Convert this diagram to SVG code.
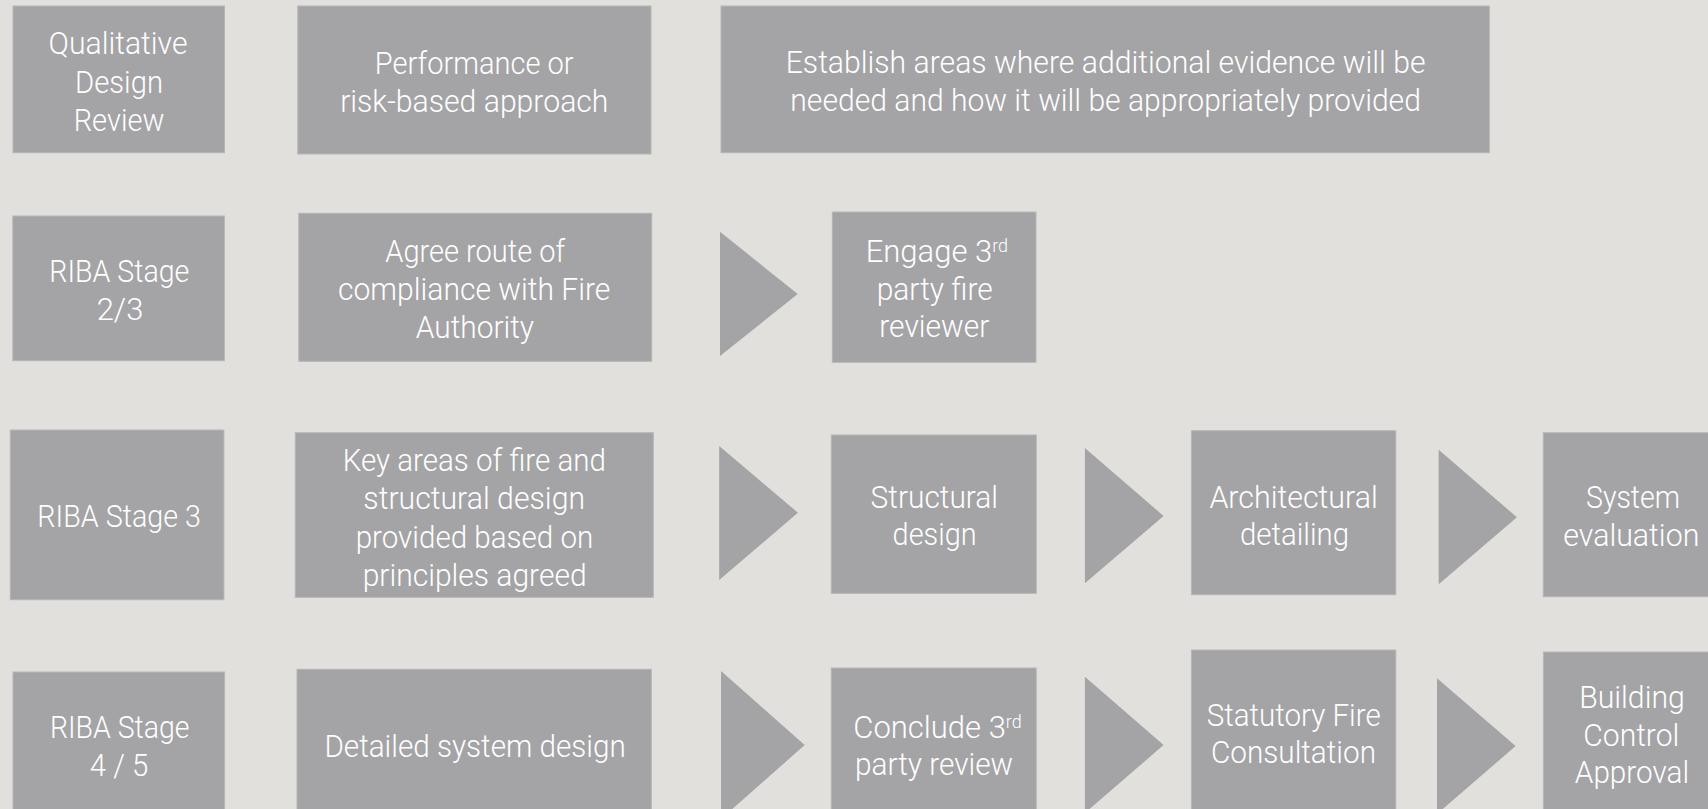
<svg xmlns="http://www.w3.org/2000/svg" width="1708" height="809" viewBox="0 0 1708 809">
<style>
.bg{fill:#e1e0dc}
.box{fill:#a4a4a6;stroke:#b6b6b8;stroke-width:1}
.chev{fill:#a4a4a6}
text{font-family:Roboto,"Liberation Sans",sans-serif;font-weight:300;font-size:31px;fill:#ffffff}
.c{text-anchor:middle}
.sup{font-size:18px}
</style>
<rect class="bg" x="0" y="0" width="1708" height="809"/>
<g id="connectors">
<polygon class="chev" points="720,231.7 797.7,294 720,356"/>
<polygon class="chev" points="719.2,446 797.9,512.7 719.2,580"/>
<polygon class="chev" points="1084.9,448 1163.6,516 1084.9,583.3"/>
<polygon class="chev" points="1438.7,449.7 1516.9,517.3 1438.7,584.3"/>
<polygon class="chev" points="721,671 804.7,745 721,819"/>
<polygon class="chev" points="1084.9,676.7 1163.6,745 1084.9,813"/>
<polygon class="chev" points="1437,678.3 1515.6,746 1437,814"/>
</g>
<g id="qualitative-design-review">
<rect class="box" x="13" y="6" width="211.5" height="146.7"/>
<text class="c" x="118" y="54.3" textLength="139" lengthAdjust="spacingAndGlyphs">Qualitative</text>
<text class="c" x="119" y="92.6" textLength="88" lengthAdjust="spacingAndGlyphs">Design</text>
<text class="c" x="119" y="131" textLength="90.6" lengthAdjust="spacingAndGlyphs">Review</text>
</g>
<g id="performance-approach">
<rect class="box" x="297.8" y="6" width="353.2" height="148"/>
<text class="c" x="474.2" y="74" textLength="198.7" lengthAdjust="spacingAndGlyphs">Performance or</text>
<text class="c" x="474.3" y="111.7" textLength="268.3" lengthAdjust="spacingAndGlyphs">risk-based approach</text>
</g>
<g id="establish-evidence">
<rect class="box" x="721" y="6" width="768.3" height="146.7"/>
<text class="c" x="1105.6" y="73.3" textLength="639.8" lengthAdjust="spacingAndGlyphs">Establish areas where additional evidence will be</text>
<text class="c" x="1105.6" y="111" textLength="630.6" lengthAdjust="spacingAndGlyphs">needed and how it will be appropriately provided</text>
</g>
<g id="riba-2-3">
<rect class="box" x="12.8" y="216" width="211.6" height="144.7"/>
<text class="c" x="119.3" y="282.3" textLength="140" lengthAdjust="spacingAndGlyphs">RIBA Stage</text>
<text class="c" x="120" y="320" textLength="46.6" lengthAdjust="spacingAndGlyphs">2/3</text>
</g>
<g id="agree-route">
<rect class="box" x="298.8" y="213.3" width="352.9" height="148"/>
<text class="c" x="475.2" y="262.3" textLength="179.8" lengthAdjust="spacingAndGlyphs">Agree route of</text>
<text class="c" x="474.2" y="300" textLength="272.4" lengthAdjust="spacingAndGlyphs">compliance with Fire</text>
<text class="c" x="474.9" y="337.7" textLength="118.3" lengthAdjust="spacingAndGlyphs">Authority</text>
</g>
<g id="engage-reviewer">
<rect class="box" x="832.3" y="212" width="203.7" height="150.3"/>
<text x="865.7" y="261.7">Engage 3<tspan class="sup" dy="-10">rd</tspan></text>
<text class="c" x="934.7" y="299.7" textLength="116" lengthAdjust="spacingAndGlyphs">party fire</text>
<text class="c" x="934.3" y="337.3" textLength="110" lengthAdjust="spacingAndGlyphs">reviewer</text>
</g>
<g id="riba-3">
<rect class="box" x="10.3" y="430" width="213.6" height="169.7"/>
<text class="c" x="119.1" y="526.7" textLength="163.6" lengthAdjust="spacingAndGlyphs">RIBA Stage 3</text>
</g>
<g id="key-areas">
<rect class="box" x="295.3" y="432.7" width="358" height="164.6"/>
<text class="c" x="474.3" y="470.7" textLength="263.3" lengthAdjust="spacingAndGlyphs">Key areas of fire and</text>
<text class="c" x="474.2" y="509.3" textLength="221.7" lengthAdjust="spacingAndGlyphs">structural design</text>
<text class="c" x="474.5" y="547.6" textLength="237.7" lengthAdjust="spacingAndGlyphs">provided based on</text>
<text class="c" x="474.7" y="585.7" textLength="224" lengthAdjust="spacingAndGlyphs">principles agreed</text>
</g>
<g id="structural-design">
<rect class="box" x="831.3" y="435" width="205" height="158.3"/>
<text class="c" x="934.3" y="507.7" textLength="127.4" lengthAdjust="spacingAndGlyphs">Structural</text>
<text class="c" x="934.6" y="545" textLength="84" lengthAdjust="spacingAndGlyphs">design</text>
</g>
<g id="architectural-detailing">
<rect class="box" x="1191.4" y="430.7" width="204.4" height="164"/>
<text class="c" x="1293.6" y="507.7" textLength="168.4" lengthAdjust="spacingAndGlyphs">Architectural</text>
<text class="c" x="1294.5" y="545" textLength="108.9" lengthAdjust="spacingAndGlyphs">detailing</text>
</g>
<g id="system-evaluation">
<rect class="box" x="1543.3" y="432.7" width="180" height="164"/>
<text class="c" x="1633" y="508.3" textLength="94" lengthAdjust="spacingAndGlyphs">System</text>
<text class="c" x="1631.3" y="545.7" textLength="136" lengthAdjust="spacingAndGlyphs">evaluation</text>
</g>
<g id="riba-4-5">
<rect class="box" x="13" y="672" width="211.6" height="150"/>
<text class="c" x="119.7" y="737.7" textLength="139.6" lengthAdjust="spacingAndGlyphs">RIBA Stage</text>
<text class="c" x="119" y="775.7" textLength="58.5" lengthAdjust="spacingAndGlyphs">4 / 5</text>
</g>
<g id="detailed-system-design">
<rect class="box" x="297" y="669.3" width="354.3" height="150"/>
<text class="c" x="475.1" y="756.7" textLength="301.4" lengthAdjust="spacingAndGlyphs">Detailed system design</text>
</g>
<g id="conclude-review">
<rect class="box" x="831.3" y="668" width="204.9" height="150"/>
<text x="853.3" y="738.3">Conclude 3<tspan class="sup" dy="-10">rd</tspan></text>
<text class="c" x="934" y="775" textLength="158" lengthAdjust="spacingAndGlyphs">party review</text>
</g>
<g id="statutory-fire-consultation">
<rect class="box" x="1191.4" y="650" width="204.4" height="170"/>
<text class="c" x="1293.7" y="726" textLength="174" lengthAdjust="spacingAndGlyphs">Statutory Fire</text>
<text class="c" x="1293.5" y="763.3" textLength="165" lengthAdjust="spacingAndGlyphs">Consultation</text>
</g>
<g id="building-control-approval">
<rect class="box" x="1543.4" y="652" width="180" height="170"/>
<text class="c" x="1632" y="708.3" textLength="105.7" lengthAdjust="spacingAndGlyphs">Building</text>
<text class="c" x="1631.3" y="746" textLength="96" lengthAdjust="spacingAndGlyphs">Control</text>
<text class="c" x="1632" y="783.3" textLength="114.3" lengthAdjust="spacingAndGlyphs">Approval</text>
</g>
</svg>
